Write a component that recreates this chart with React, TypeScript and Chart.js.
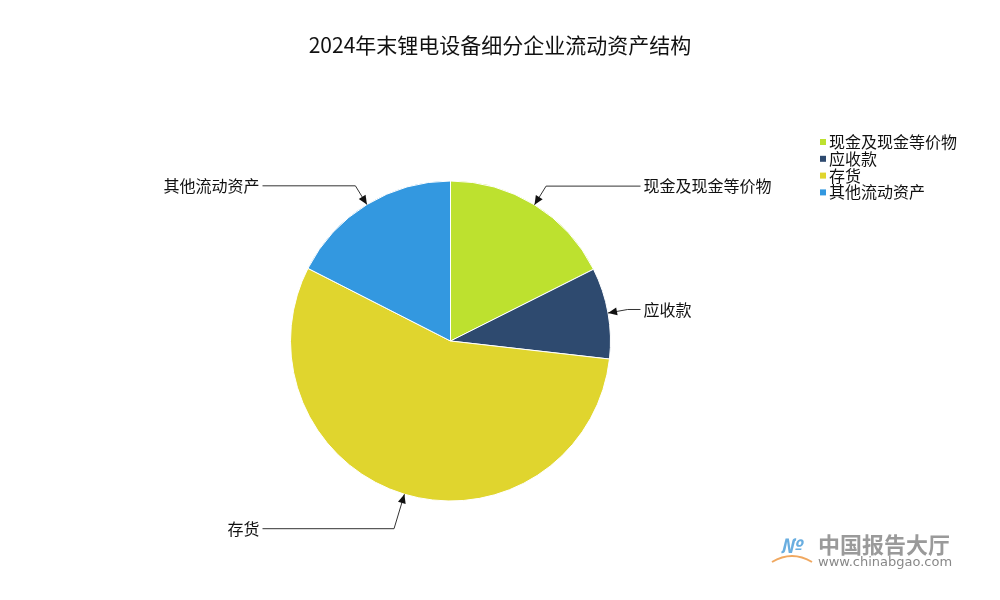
import React, { useEffect, useRef } from "react";
import { Chart, registerables } from "chart.js";

Chart.register(...registerables);

const TITLE = "2024年末锂电设备细分企业流动资产结构";
const categories = ["现金及现金等价物", "应收款", "存货", "其他流动资产"];
const values = [17.6, 9.2, 55.7, 17.5];
const colors = ["#bde12f", "#2e4a6f", "#e0d52e", "#3398e0"];
const leaderExtra = [22, 20, 36, 22];

const FONT = '"Noto Sans CJK SC", "Noto Sans", sans-serif';

const overlay = {
  id: "overlay",
  afterDraw(chart: any) {
    const ctx = chart.ctx as CanvasRenderingContext2D;
    ctx.save();
    // title
    ctx.fillStyle = "#111";
    ctx.font = `21px ${FONT}`;
    ctx.textAlign = "center";
    ctx.textBaseline = "middle";
    ctx.fillText(TITLE, 500, 45);

    // legend
    ctx.font = `16px ${FONT}`;
    ctx.textAlign = "left";
    categories.forEach((c, i) => {
      const y = 142 + i * 16.8;
      ctx.fillStyle = colors[i];
      ctx.fillRect(820, y - 3, 6, 6);
      ctx.fillStyle = "#111";
      ctx.fillText(c, 829, y);
    });

    // leader lines
    const meta = chart.getDatasetMeta(0);
    meta.data.forEach((arc: any, i: number) => {
      const mid = (arc.startAngle + arc.endAngle) / 2;
      const r = arc.outerRadius;
      const cx = arc.x, cy = arc.y;
      const tx = cx + Math.cos(mid) * r;
      const ty = cy + Math.sin(mid) * r;
      const er = r + leaderExtra[i];
      const ex = cx + Math.cos(mid) * er;
      const ey = cy + Math.sin(mid) * er;
      const right = Math.cos(mid) >= 0;
      const lx = right ? cx + 190 : cx - 188;
      ctx.strokeStyle = "#333";
      ctx.lineWidth = 1;
      ctx.beginPath();
      ctx.moveTo(lx, ey);
      ctx.lineTo(ex, ey);
      ctx.lineTo(tx, ty);
      ctx.stroke();
      // arrow head
      const ang = Math.atan2(ty - ey, tx - ex);
      const L = 9, W = 4;
      ctx.fillStyle = "#111";
      ctx.beginPath();
      ctx.moveTo(tx, ty);
      ctx.lineTo(tx - L * Math.cos(ang) + W * Math.sin(ang), ty - L * Math.sin(ang) - W * Math.cos(ang));
      ctx.lineTo(tx - L * Math.cos(ang) - W * Math.sin(ang), ty - L * Math.sin(ang) + W * Math.cos(ang));
      ctx.closePath();
      ctx.fill();
      ctx.font = `16px ${FONT}`;
      ctx.textBaseline = "middle";
      ctx.fillStyle = "#111";
      ctx.textAlign = right ? "left" : "right";
      ctx.fillText(categories[i], right ? lx + 3 : lx - 3, ey);
    });

    // watermark
    ctx.textAlign = "left";
    ctx.fillStyle = "#9a9a9a";
    ctx.font = `bold 22px ${FONT}`;
    ctx.fillText("中国报告大厅", 818, 545);
    ctx.font = `13px "DejaVu Sans", sans-serif`;
    ctx.fillStyle = "#888";
    ctx.fillText("www.chinabgao.com", 818, 563);
    ctx.strokeStyle = "#f0a860";
    ctx.lineWidth = 2;
    ctx.beginPath();
    ctx.moveTo(772, 562);
    ctx.quadraticCurveTo(792, 550, 812, 562);
    ctx.stroke();
    ctx.fillStyle = "#6aaee0";
    ctx.font = `italic bold 20px ${FONT}`;
    ctx.fillText("\u2116", 780, 545);
    ctx.restore();
  },
};

export default function App() {
  const ref = useRef<HTMLCanvasElement>(null);
  useEffect(() => {
    if (!ref.current) return;
    const chart = new Chart(ref.current, {
      type: "pie",
      data: {
        labels: categories,
        datasets: [
          {
            data: values,
            backgroundColor: colors,
            borderColor: "#ffffff",
            borderWidth: 1,
          },
        ],
      },
      options: {
        responsive: false,
        animation: false,
        layout: { padding: { left: 290, right: 389, top: 180, bottom: 98 } },
        plugins: {
          legend: { display: false },
          title: { display: false },
          tooltip: { enabled: false },
        },
      },
      plugins: [overlay],
    });
    return () => chart.destroy();
  }, []);
  return (
    <div style={{ position: "fixed", left: 0, top: 0, width: 1000, height: 600, background: "#fff" }}>
      <canvas ref={ref} width={1000} height={600} style={{ width: 1000, height: 600 }} />
    </div>
  );
}
